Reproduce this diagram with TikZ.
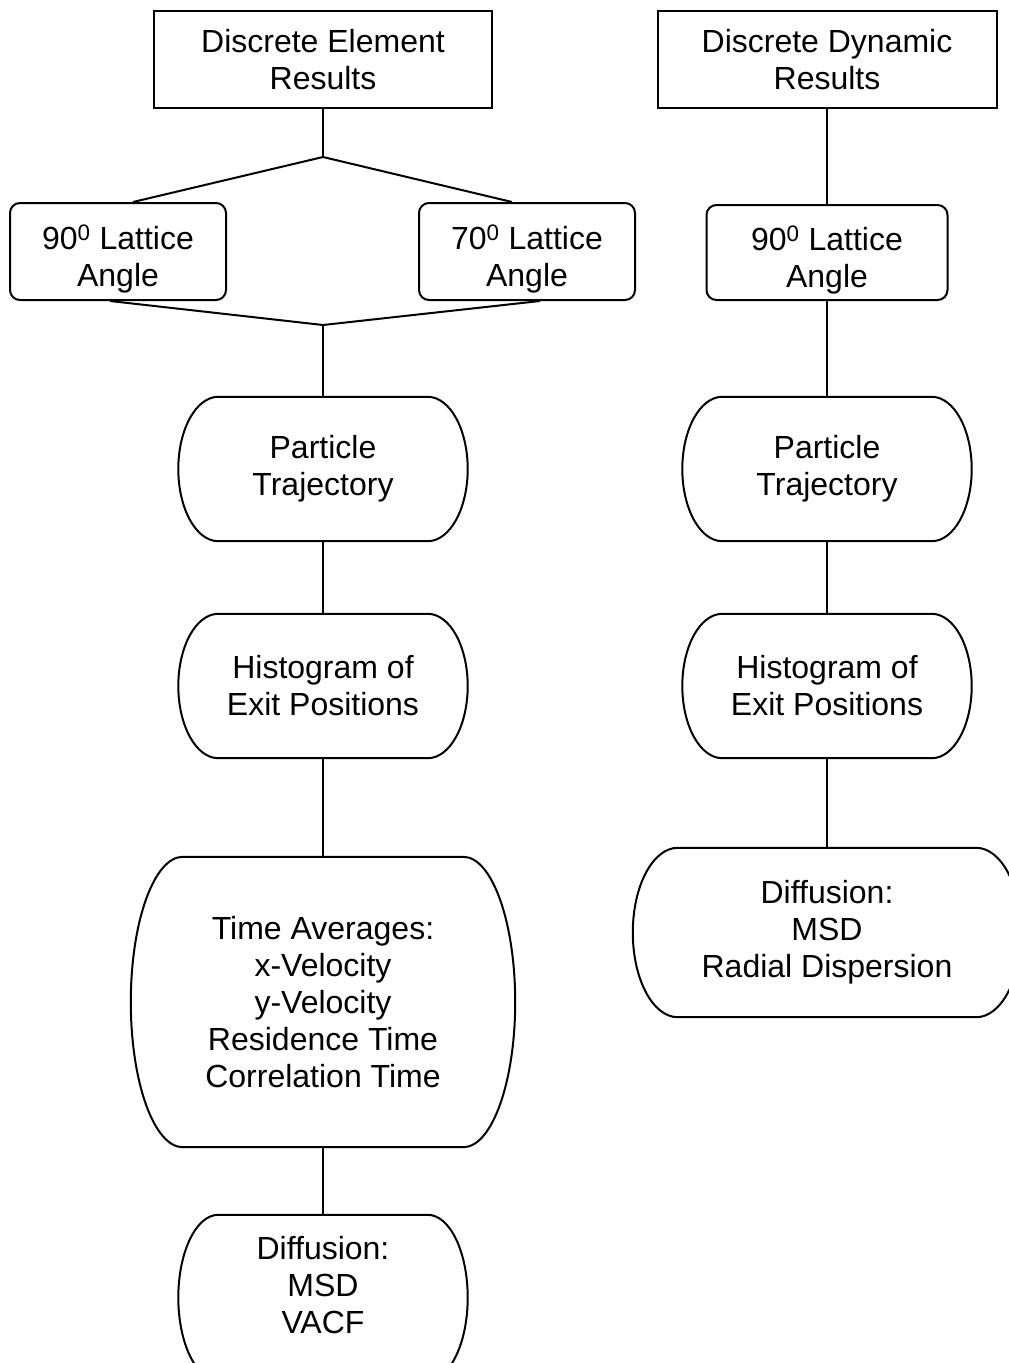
\documentclass[tikz,border=0pt]{standalone}
\usepackage{fontspec}
\setmainfont{Liberation Sans}
\usetikzlibrary{calc}

% outline of a box with flat top/bottom and bulging elliptical sides
\newcommand\capsuleline[2]{%
  \draw[outline] let \p1=(#1.north), \p2=(#1.south), \n1={(\y1-\y2)/2} in
    ([xshift=#2]#1.north west) -- ([xshift=-#2]#1.north east)
    arc[start angle=90,end angle=-90,x radius=#2,y radius=\n1]
    -- ([xshift=#2]#1.south west)
    arc[start angle=270,end angle=90,x radius=#2,y radius=\n1] -- cycle;}

% strut that lowers the two-line lattice labels a little
\newcommand\latstrut{\rule{0pt}{40pt}}

\tikzset{
  txt/.style={font=\fontsize{32}{37}\selectfont, align=center},
  sqbox/.style={txt, draw, line width=2pt, inner sep=0pt},
  rbox/.style={sqbox, rounded corners=10pt},
  capsule/.style={txt, inner sep=0pt},
  outline/.style={line width=2pt},
  link/.style={line width=2pt},
}

\begin{document}
\begin{tikzpicture}[x=1pt,y=-1pt]
\useasboundingbox (0,0) rectangle (1009,1363);

% ---- left column: discrete element results ----
\node[sqbox, minimum width=338pt, minimum height=97pt] (de) at (323,59.5) {Discrete Element\\Results};
\node[rbox, minimum width=216pt, minimum height=97pt] (a90) at (118,251.5) {\latstrut 90\textsuperscript{0} Lattice\\Angle};
\node[rbox, minimum width=216pt, minimum height=97pt] (a70) at (527,251.5) {\latstrut 70\textsuperscript{0} Lattice\\Angle};

\node[capsule, minimum width=289pt, minimum height=144pt] (lpt) at (323,469) {Particle\\Trajectory};
\node[capsule, minimum width=289pt, minimum height=144pt] (lhg) at (323,686) {Histogram of\\Exit Positions};
\node[capsule, minimum width=384pt, minimum height=290pt] (lta) at (323,1002) {Time Averages:\\x-Velocity\\y-Velocity\\Residence Time\\Correlation Time};
\node[capsule, minimum width=289pt, minimum height=165pt] (ldf) at (323,1297.5) {};
\node[txt] (ldftext) at (323,1285) {Diffusion:\\MSD\\VACF};

\capsuleline{lpt}{40pt}
\capsuleline{lhg}{40pt}
\capsuleline{lta}{52pt}
\capsuleline{ldf}{40pt}

\coordinate (j1) at (323,157);
\coordinate (j2) at (323,325);
\draw[link] (de.south) -- (j1);
\draw[link] ($(a90.north)+(15,0)$) -- (j1) -- ($(a70.north)+(-15,0)$);
\draw[link] ($(a90.south)+(-8,0)$) -- (j2) -- ($(a70.south)+(13,0)$);
\draw[link] (j2) -- (lpt.north);
\draw[link] (lpt.south) -- (lhg.north);
\draw[link] (lhg.south) -- (lta.north);
\draw[link] (lta.south) -- (ldf.north);

% ---- right column: discrete dynamic results ----
\node[sqbox, minimum width=339pt, minimum height=97pt] (dd) at (827,59.5) {Discrete Dynamic\\Results};
\node[rbox, minimum width=241pt, minimum height=95pt] (r90) at (827,252.5) {\latstrut 90\textsuperscript{0} Lattice\\Angle};
\node[capsule, minimum width=289pt, minimum height=144pt] (rpt) at (827,469) {Particle\\Trajectory};
\node[capsule, minimum width=289pt, minimum height=144pt] (rhg) at (827,686) {Histogram of\\Exit Positions};
\node[capsule, minimum width=388pt, minimum height=169pt] (rdf) at (827,932.5) {Diffusion:\\MSD\\Radial Dispersion};

\capsuleline{rpt}{40pt}
\capsuleline{rhg}{40pt}
\capsuleline{rdf}{45pt}

\draw[link] (dd.south) -- (r90.north);
\draw[link] (r90.south) -- (rpt.north);
\draw[link] (rpt.south) -- (rhg.north);
\draw[link] (rhg.south) -- (rdf.north);
\end{tikzpicture}
\end{document}
